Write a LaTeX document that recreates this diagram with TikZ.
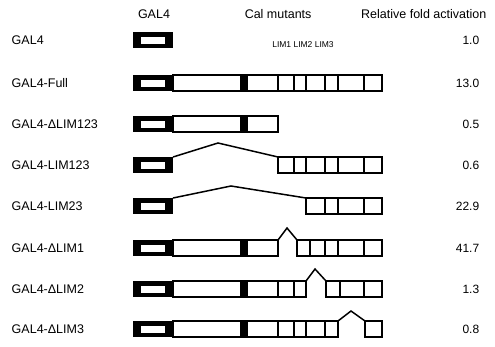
\documentclass[tikz,border=0pt]{standalone}
\usepackage{fontspec}
\setmainfont{Liberation Sans}
\newcommand{\galbox}[1]{%
  \fill (133,{#1-8}) rectangle (173,{#1+8});
  \fill[white] (141,{#1-3.5}) rectangle (165,{#1+3.5});}
\newcommand{\linker}[2]{% white linker and black bar, ends at #2
  \draw (173,{#1-8}) rectangle (#2,{#1+8});
  \fill (240,{#1-8}) rectangle (248,{#1+8});}
\begin{document}
\begin{tikzpicture}[x=1pt,y=-1pt,line width=1.5pt,
  txt/.style={font=\fontsize{12.5}{15}\selectfont,inner sep=0pt},
  num/.style={font=\fontsize{12}{14}\selectfont,inner sep=0pt},
  small/.style={font=\fontsize{8.5}{10}\selectfont,inner sep=0pt},
  divider/.style={line width=1.1pt}]
\useasboundingbox (0,0) rectangle (495,346);

% headings
\node[txt] (head-gal) at (154,14) {GAL4};
\node[txt,anchor=west] (head-cal) at (244,14) {Cal mutants};
\node[txt,anchor=east] (head-rel) at (487,14) {Relative fold activation};
\node[small] (head-lim) at (303,45) {LIM1 LIM2 LIM3};

% row labels and values
\foreach \y/\lab/\val/\nm in {40/GAL4/1.0/gal, 83/GAL4-Full/13.0/full,
    124/GAL4-ΔLIM123/0.5/dl123, 165/GAL4-LIM123/0.6/l123,
    206/GAL4-LIM23/22.9/l23, 248/GAL4-ΔLIM1/41.7/dl1,
    289/GAL4-ΔLIM2/1.3/dl2, 329/GAL4-ΔLIM3/0.8/dl3}{
  \node[txt,anchor=west] (lab-\nm) at (11,\y) {\lab};
  \node[num,anchor=east] (val-\nm) at (480,\y) {\val};
}

% GAL4
\galbox{40}

% GAL4-Full
\galbox{83}
\linker{83}{382}
\foreach \x in {278,294,306,325,338,364}
  \draw[divider] (\x,75) -- (\x,91);

% GAL4-dLIM123
\galbox{124}
\linker{124}{278}

% GAL4-LIM123
\galbox{165}
\coordinate (apex-l123) at (218,143);
\draw (173,157) -- (apex-l123) -- (278,157);
\draw (278,157) rectangle (382,173);
\foreach \x in {294,306,325,338,364}
  \draw[divider] (\x,157) -- (\x,173);

% GAL4-LIM23
\galbox{206}
\coordinate (apex-l23) at (231,186);
\draw (173,198) -- (apex-l23) -- (306,198);
\draw (306,198) rectangle (382,214);
\foreach \x in {325,338,364}
  \draw[divider] (\x,198) -- (\x,214);

% GAL4-dLIM1
\galbox{248}
\linker{248}{278}
\coordinate (apex-dl1) at (287,228);
\draw (278,240) -- (apex-dl1) -- (297,240);
\draw (297,240) rectangle (382,256);
\foreach \x in {310,325,338,364}
  \draw[divider] (\x,240) -- (\x,256);

% GAL4-dLIM2
\galbox{289}
\linker{289}{306}
\foreach \x in {278,294}
  \draw[divider] (\x,281) -- (\x,297);
\coordinate (apex-dl2) at (315,269);
\draw (306,281) -- (apex-dl2) -- (326,281);
\draw (326,281) rectangle (382,297);
\foreach \x in {340,364}
  \draw[divider] (\x,281) -- (\x,297);

% GAL4-dLIM3
\galbox{329}
\linker{329}{338}
\foreach \x in {278,294,306,325}
  \draw[divider] (\x,321) -- (\x,337);
\coordinate (apex-dl3) at (351,311);
\draw (338,321) -- (apex-dl3) -- (365,321);
\draw (365,321) rectangle (382,337);
\end{tikzpicture}
\end{document}
